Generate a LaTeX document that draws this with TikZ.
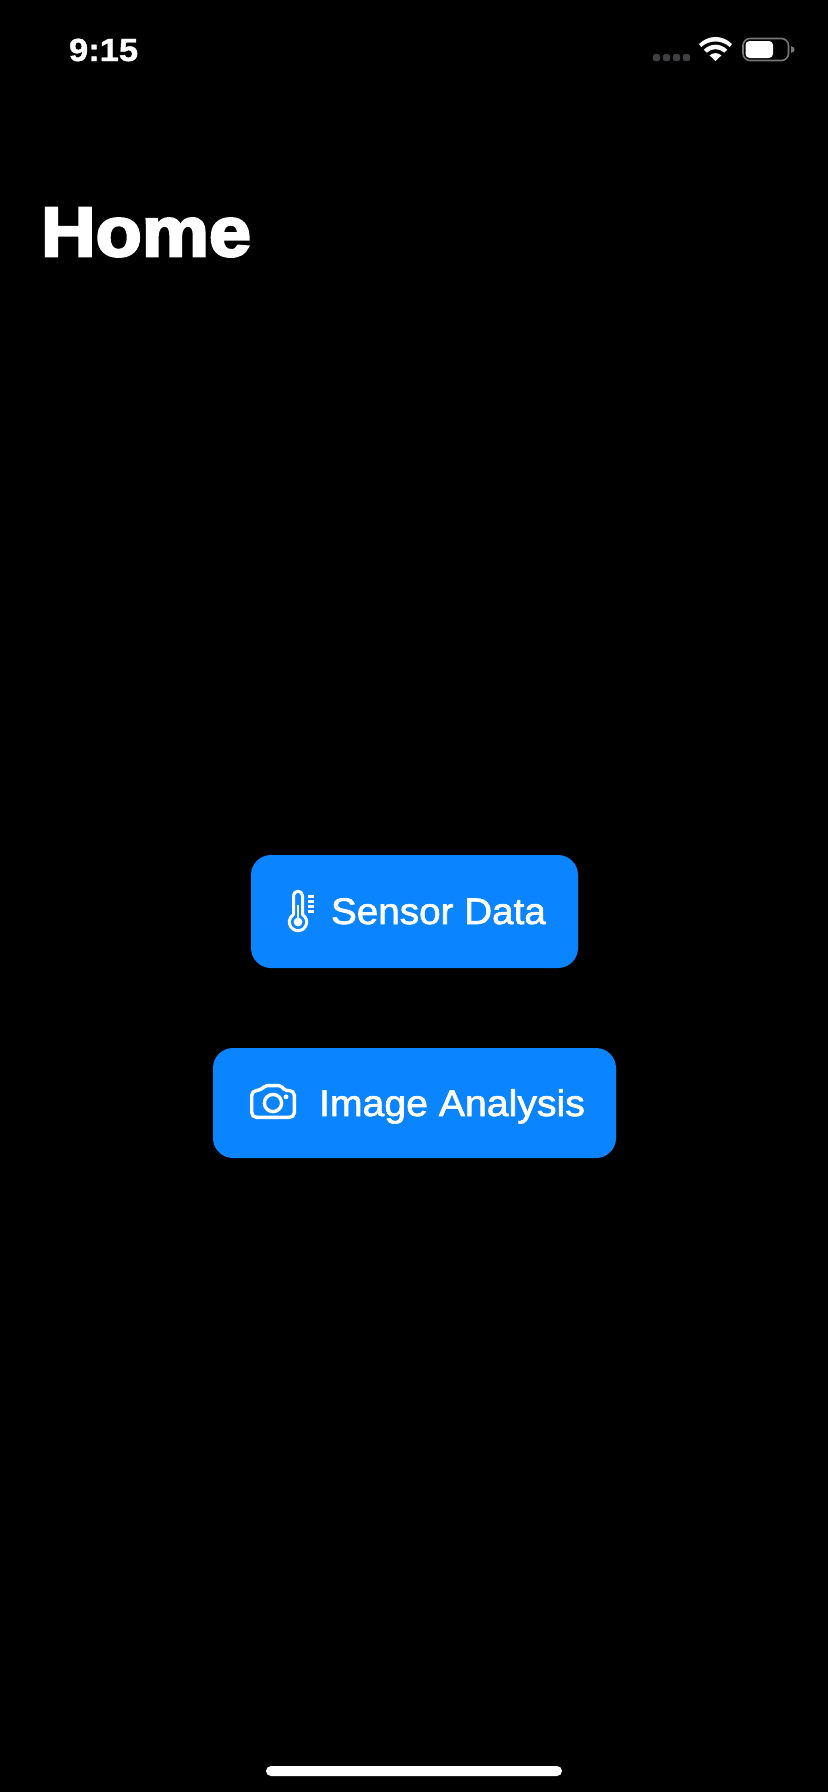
\documentclass[tikz,border=0pt]{standalone}
\usepackage{fontspec}
\setmainfont{Liberation Sans}
\newfontfamily\homefont[FakeBold=3.6,FakeStretch=1.08]{Liberation Sans Bold}
\newfontfamily\timefont[FakeBold=1.2,FakeStretch=1.08]{Liberation Sans Bold}
\newfontfamily\btnfontA[FakeBold=1.8,FakeStretch=1.045]{Liberation Sans}
\newfontfamily\btnfontB[FakeBold=1.8,FakeStretch=1.06]{Liberation Sans}
\definecolor{btnblue}{HTML}{0A84FF}
\definecolor{dotgray}{HTML}{404042}
\definecolor{battgray}{HTML}{77777B}
\tikzset{
  x=1pt,y=-1pt,
  btn/.style={fill=btnblue,draw=none,rounded corners=20pt},
  label/.style={anchor=base west,inner sep=0pt,outer sep=0pt,text=white},
  icon/.style={draw=white,line width=3pt,fill=none,line cap=round,line join=round},
  solid white/.style={fill=white,draw=none},
  sig dot/.style={fill=dotgray,draw=none,rounded corners=2.5pt},
}
\begin{document}
\begin{tikzpicture}
\path[use as bounding box,fill=black] (0,0) rectangle (828,1792);
% status bar
\node[label,font={\timefont\fontsize{32}{32}\selectfont}] (time) at (69,61) {9:15};
\foreach \cx in {656.5,666.5,676.5,686.5}
  \path[sig dot] (\cx-3.6,54) rectangle (\cx+3.6,61.2);
% wifi
\fill[white] (715.5,61) -- (709.6,55.4) .. controls (713,52.4) and (718,52.4) .. (721.4,55.4) -- cycle;
\fill[white] (706.8,52.6) .. controls (712,48) and (719,48) .. (724.2,52.6) -- (727.2,49.6) .. controls (720,43) and (711,43) .. (703.8,49.6) -- cycle;
\fill[white] (701.2,47) .. controls (709.5,39.6) and (721.5,39.6) .. (729.8,47) -- (732,44) .. controls (722.5,34.6) and (708.5,34.6) .. (699,44) -- cycle;
% battery
\draw[battgray,line width=1.6pt,rounded corners=7pt] (743,38.5) rectangle (788.5,60.5);
\path[solid white,rounded corners=4pt] (745.5,41) rectangle (773,58);
\fill[battgray] (791,46) .. controls (793.5,46.5) and (794.5,48) .. (794.5,49.5) .. controls (794.5,51) and (793.5,52.5) .. (791,53) -- cycle;
% title
\node[label,font={\homefont\fontsize{70}{70}\selectfont}] (home) at (41,256) {Home};
% buttons
\path[btn] (251,855) rectangle (578,968);
\path[btn] (213,1048) rectangle (616,1158);
\node[label,font={\btnfontA\fontsize{37}{37}\selectfont}] (sensor) at (331,924) {Sensor Data};
\node[label,font={\btnfontB\fontsize{37}{37}\selectfont}] (image) at (319,1116) {Image Analysis};
% thermometer
\draw[icon,line width=3pt] (293.5,914.55) -- (293.5,895.7) arc[start angle=180,end angle=0,radius=4.5pt] -- (302.5,914.55)
  arc[start angle=59,end angle=-239,radius=8.7pt] -- cycle;
\draw[white,line width=2.2pt] (298,905) -- (298,920);
\fill[white] (298,922) circle[radius=4.4pt];
\foreach \ty in {896.5,901.5,906.5,911.5}
  \draw[white,line width=2.2pt] (307.5,\ty) -- (314,\ty);
% camera
\draw[icon,line width=3.4pt,rounded corners=5pt] (251.7,1100) -- (251.7,1090.5) -- (261,1090.5) [rounded corners=2pt] -- (265,1085.6) -- (281,1085.6) -- (285,1090.5) [rounded corners=5pt] -- (294.4,1090.5) -- (294.4,1117.4) -- (251.7,1117.4) -- cycle;
\draw[icon,line width=3.4pt] (273,1103) circle[radius=8.6pt];
\fill[white] (286,1096.8) circle[radius=2.4pt];
% home indicator
\path[solid white,rounded corners=5pt] (266,1766) rectangle (562,1776);
\end{tikzpicture}
\end{document}
